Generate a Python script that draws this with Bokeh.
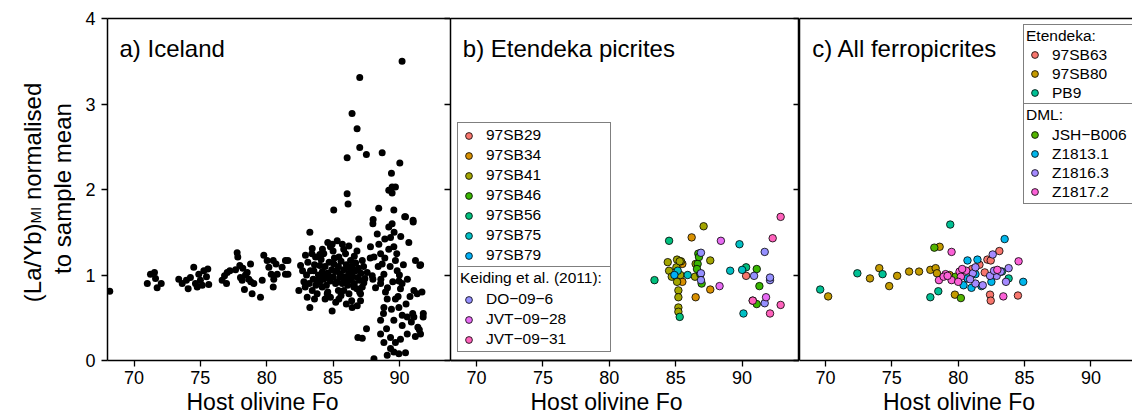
import math
from bokeh.plotting import figure
from bokeh.models import (Range1d, FixedTicker, LinearAxis, Label, Legend,
                          LegendItem, ColumnDataSource, Title)
from bokeh.layouts import row
from bokeh.embed import file_html
from bokeh.resources import INLINE

FONT = "Liberation Sans"
MINUS = "\u2212"

x_ticks = [70, 75, 80, 85, 90]
y_ticks = [0, 1, 2, 3, 4]
x_title = "Host olivine Fo"
panel_titles = ["a) Iceland", "b) Etendeka picrites", "c) All ferropicrites"]

# ---------------- panel a: Iceland ----------------
iceland_fo = [
    68.17, 71.0, 71.24, 71.54, 71.62, 71.74, 72.05,
    73.37, 73.63, 73.95, 74.08, 74.25, 74.5, 74.63, 74.88, 75.0,
    75.26, 75.46, 75.56, 75.63, 75.14, 74.76,
    76.64, 76.82, 77.02, 77.22, 76.97,
    77.77, 77.82, 77.65, 77.97, 78.02, 78.15, 78.32, 78.53, 78.65, 78.78, 78.9, 79.03,
    79.53, 79.66, 79.78, 80.03, 80.16, 80.34, 80.49, 80.53, 80.49, 80.79, 81.41, 81.41, 81.16,
    78.4, 78.8, 80.7, 81.6, 81.6, 78.2,
    83.25, 83.25, 82.55, 82.42, 82.92, 83.0, 82.8, 83.05, 83.43, 83.43,
    83.55, 83.68, 83.8, 84.0, 84.18, 84.3, 84.43, 84.56, 84.8, 84.93,
    84.93, 85.06, 85.19, 85.31, 85.44, 85.44, 85.56, 85.81, 85.94, 86.07,
    86.19, 86.19, 86.32, 86.44, 86.57, 86.69, 86.87, 86.94, 87.07, 87.2,
    87.32, 87.07, 86.82, 87.57, 87.82, 87.95, 88.08, 88.0, 88.33, 88.45,
    88.58, 88.7, 88.83, 88.58, 88.95, 89.08, 88.83, 89.2, 89.45, 89.33,
    89.58, 89.7, 89.83, 89.96, 90.08, 89.7, 89.96, 90.21, 89.58, 90.71,
    90.46, 91.04, 91.21, 91.54, 91.09, 91.34, 90.59, 91.09, 91.79, 91.39,
    91.59, 86.87, 87.2, 87.52, 88.58, 88.58, 89.03, 89.33, 89.7, 90.08,
    90.59, 90.21, 88.08, 89.08, 89.58, 89.96, 90.46, 89.33, 88.83,
    83.3, 83.5, 83.6, 83.7, 83.9, 84.0, 84.1, 84.2, 84.3, 84.4,
    84.5, 84.6, 84.7, 84.8, 84.9, 85.0, 85.1, 85.2, 85.3, 85.4,
    85.5, 85.6, 85.7, 85.8, 85.9, 86.0, 86.1, 86.2, 86.3, 86.4,
    86.5, 86.6, 86.7, 86.8, 86.9, 87.0, 87.1, 87.2, 87.3, 87.4,
    83.4, 83.8, 84.2, 84.6, 85.0, 85.4, 85.8, 86.2, 86.6, 87.0,
    83.2, 84.0, 84.8, 85.6, 86.4, 85.2, 84.4, 86.0, 85.7, 84.6,
    86.8, 83.6, 82.7, 82.9, 83.1, 85.3, 84.75, 85.85, 86.35, 84.15,
    88.6, 88.9, 89.1, 89.3, 89.5, 89.2, 89.8, 90.0, 90.2, 89.9,
    90.3, 90.5, 88.8, 89.4, 90.6, 88.4, 88.2, 87.8, 88.0, 90.1,
    89.6, 88.9, 91.0, 90.8, 91.6, 91.7, 91.5, 91.8, 91.2, 90.9,
    90.2, 87.01, 86.43, 86.81, 87.01, 87.51, 88.7, 86.06, 90.03, 89.4,
    86.06, 86.13, 85.05, 89.2, 89.45, 89.7, 89.45, 88.44, 89.58, 88.02,
    90.4, 91.03,
]
iceland_ratio = [
    0.81, 0.90, 1.01, 1.03, 0.96, 0.85, 0.90,
    0.95, 0.90, 0.94, 0.84, 0.97, 1.09, 0.90, 1.01, 0.94,
    1.05, 0.98, 1.07, 0.89, 0.88, 0.86,
    0.94, 0.99, 1.03, 1.05, 0.90,
    1.26, 1.21, 1.06, 1.11, 0.97, 0.94, 0.83, 1.03, 0.95, 1.13, 0.78, 0.90,
    0.74, 0.94, 1.23, 1.17, 1.09, 1.01, 1.17, 0.95, 0.86, 1.01, 1.17, 1.01, 1.09,
    1.00, 0.92, 1.13, 1.17, 1.01, 1.08,
    1.50, 0.62, 1.11, 0.82, 1.23, 1.00, 0.92, 0.74, 1.31, 0.82,
    1.05, 1.21, 0.94, 1.11, 0.86, 1.25, 0.99, 0.78, 1.33, 1.36,
    0.58, 1.13, 0.90, 1.40, 1.21, 0.72, 1.01, 0.82, 1.25, 1.09,
    1.34, 0.95, 1.17, 0.62, 0.86, 1.05, 0.97, 1.42, 0.78, 1.17,
    0.91, 0.70, 0.64, 1.03, 1.33, 0.99, 1.21, 1.60, 1.48, 1.36,
    1.25, 1.13, 1.01, 0.90, 0.80, 0.72, 0.62, 1.56, 1.60, 1.44,
    1.33, 1.17, 1.05, 0.93, 0.84, 0.72, 0.62, 0.53, 0.47, 1.38,
    1.68, 1.62, 1.17, 1.11, 0.82, 0.78, 0.51, 0.51, 0.51, 0.39,
    0.31, 0.27, 0.26, 0.37, 0.47, 0.31, 0.37, 0.27, 0.21, 0.25,
    0.31, 0.41, 0.02, 0.06, 0.10, 0.08, 0.09, 0.14, 0.21,
    1.05, 0.95, 1.12, 0.88, 1.00, 0.92, 1.18, 1.04, 0.95, 1.10,
    0.88, 1.02, 1.15, 0.93, 1.06, 0.98, 1.20, 1.04, 0.92, 1.10,
    0.97, 1.16, 0.90, 1.06, 0.98, 1.12, 0.88, 1.02, 0.94, 1.10,
    0.98, 0.90, 1.14, 0.84, 1.08, 0.94, 1.02, 0.86, 1.10, 0.96,
    1.25, 0.78, 1.30, 0.80, 1.28, 0.82, 1.30, 0.78, 1.22, 0.80,
    0.90, 1.24, 0.74, 0.76, 0.70, 0.68, 0.72, 0.66, 1.36, 1.38,
    1.28, 0.72, 1.05, 0.86, 1.15, 1.05, 0.97, 0.92, 1.04, 0.99,
    0.95, 1.20, 0.85, 1.10, 0.92, 1.30, 1.25, 1.00, 0.90, 0.75,
    1.12, 0.66, 0.55, 0.60, 0.95, 1.10, 0.85, 1.20, 0.95, 1.45,
    1.50, 1.42, 0.55, 0.75, 1.12, 0.80, 0.36, 0.55, 0.28, 0.45,
    3.50, 3.31, 2.89, 2.71, 2.49, 2.41, 2.43, 2.37, 2.31, 2.19,
    1.95, 1.83, 1.76, 1.99, 1.96, 2.03, 2.03, 1.78, 1.76, 1.65,
    1.68, 1.64,
]

# ---------------- panel b: Etendeka picrites ----------------
b_names = ["97SB29", "97SB34", "97SB41", "97SB46", "97SB56", "97SB75", "97SB79",
           "DO" + MINUS + "09" + MINUS + "6", "JVT" + MINUS + "09" + MINUS + "28",
           "JVT" + MINUS + "09" + MINUS + "31"]
b_colors = ["#F8766D", "#D89000", "#A3A500", "#39B600", "#00BF7D", "#00BFC4",
            "#00B0F6", "#9590FF", "#E76BF3", "#FF62BC"]
sb29_fo = [90.3, 90.8]
sb29_ratio = [0.99, 0.70]
sb34_fo = [86.2, 86.5, 87.6, 85.5, 85.5]
sb34_ratio = [1.44, 0.74, 0.83, 1.13, 0.92]
sb41_fo = [87.1, 84.4, 85.1, 85.4, 84.5, 84.7, 85.1, 85.2, 85.2, 85.2, 85.2, 85.35, 85.05, 87.6, 86.5, 86.45, 85.3]
sb41_ratio = [1.57, 1.15, 1.18, 1.16, 1.05, 0.98, 0.92, 0.82, 0.74, 0.62, 0.57, 1.00, 1.09, 1.17, 1.13, 0.98, 1.16]
sb46_fo = [86.7, 86.65, 86.6, 86.85, 86.95, 91.1, 91.3, 91.1, 86.75]
sb46_ratio = [1.25, 1.13, 1.07, 1.01, 0.90, 1.07, 0.87, 0.66, 1.21]
sb56_fo = [83.4, 84.5, 85.3, 90.3]
sb56_ratio = [0.94, 1.40, 0.51, 1.09]
sb75_fo = [85.15, 85.9, 89.1, 89.8, 90.0, 90.1]
sb75_ratio = [1.05, 1.00, 1.05, 1.36, 1.06, 0.55]
sb79_fo = [84.9]
sb79_ratio = [1.00]
do096_fo = [86.9, 86.9, 86.9, 90.9, 91.7, 92.1, 92.1, 91.7]
do096_ratio = [1.26, 1.02, 0.94, 0.99, 1.27, 0.94, 0.97, 0.67]
jvt0928_fo = [88.4, 88.3, 91.8]
jvt0928_ratio = [1.40, 0.87, 0.74]
jvt0931_fo = [92.9, 92.3, 90.8, 92.1, 92.9]
jvt0931_ratio = [1.68, 1.43, 0.70, 0.55, 0.65]
b_fo = [sb29_fo, sb34_fo, sb41_fo, sb46_fo, sb56_fo, sb75_fo, sb79_fo, do096_fo, jvt0928_fo, jvt0931_fo]
b_ratio = [sb29_ratio, sb34_ratio, sb41_ratio, sb46_ratio, sb56_ratio, sb75_ratio, sb79_ratio,
           do096_ratio, jvt0928_ratio, jvt0931_ratio]

# ---------------- panel c: all ferropicrites ----------------
c_names = ["97SB63", "97SB80", "PB9", "JSH" + MINUS + "B006", "Z1813.1", "Z1816.3", "Z1817.2"]
c_colors = ["#F8766D", "#C49A00", "#00C094", "#53B400", "#00B6EB", "#A58AFF", "#FB61D7"]
sb63_fo = [81.6, 82.0, 82.2, 82.45, 83.1, 82.4, 82.45, 84.5, 81.05]
sb63_ratio = [1.12, 1.03, 1.18, 1.17, 1.28, 0.77, 0.70, 0.76, 1.07]
sb80_fo = [70.2, 73.35, 74.05, 74.8, 75.4, 76.3, 77.05, 77.9, 78.3, 78.4, 78.6, 79.35, 79.75]
sb80_ratio = [0.75, 0.96, 1.08, 0.87, 0.99, 1.04, 1.04, 1.06, 1.08, 1.02, 1.33, 1.00, 0.77]
pb9_fo = [69.6, 72.4, 74.3, 77.9, 78.5, 79.4, 83.3, 83.8]
pb9_ratio = [0.83, 1.02, 1.01, 0.74, 0.81, 1.59, 1.04, 0.96]
jsh_fo = [78.2, 80.2, 79.8]
jsh_ratio = [1.32, 0.73, 0.98]
z18131_fo = [80.7, 81.45, 83.5, 84.9, 80.4, 81.0, 81.75, 82.5, 80.7, 81.3]
z18131_ratio = [1.17, 1.18, 1.42, 0.92, 0.88, 0.85, 0.87, 0.92, 0.96, 1.01]
z18163_fo = [82.6, 83.8, 83.6, 82.9, 82.4, 81.3, 81.85, 81.1, 81.3, 82.7, 80.9, 83.2]
z18163_ratio = [1.24, 1.08, 0.92, 0.99, 0.99, 0.90, 0.88, 1.02, 1.09, 1.05, 0.95, 1.04]
z18172_fo = [79.5, 84.55, 83.4, 80.1, 80.2, 80.6, 79.05, 78.55, 78.9, 79.5, 80.0, 82.95, 80.3, 79.2]
z18172_ratio = [1.27, 1.16, 0.75, 1.04, 0.98, 1.05, 1.01, 0.94, 0.98, 0.94, 0.92, 1.06, 1.07, 0.99]
c_fo = [sb63_fo, sb80_fo, pb9_fo, jsh_fo, z18131_fo, z18163_fo, z18172_fo]
c_ratio = [sb63_ratio, sb80_ratio, pb9_ratio, jsh_ratio, z18131_ratio, z18163_ratio, z18172_ratio]

ROW_H = 418


def style_xaxis(ax):
    ax.ticker = FixedTicker(ticks=x_ticks)
    ax.major_tick_out = 6
    ax.major_tick_in = 0
    ax.minor_tick_line_color = None
    ax.major_tick_line_color = "black"
    ax.major_tick_line_width = 1.3
    ax.axis_line_color = "black"
    ax.axis_line_width = 1.5
    ax.major_label_text_font = FONT
    ax.major_label_text_font_size = "18px"
    ax.major_label_text_color = "black"
    ax.major_label_standoff = 4


def inward_right_axis(p, line=False):
    ax = LinearAxis(ticker=FixedTicker(ticks=y_ticks))
    ax.major_tick_in = 6
    ax.major_tick_out = 0
    ax.minor_tick_line_color = None
    ax.major_tick_line_color = "black"
    ax.major_tick_line_width = 1.3
    ax.axis_line_color = "black" if line else None
    ax.axis_line_width = 1.5
    ax.major_label_overrides = {t: "" for t in y_ticks}
    ax.major_label_text_font_size = "0px"
    ax.major_label_standoff = 0
    p.add_layout(ax, "right")


def bare_axis(p, side, line=True):
    ax = LinearAxis(ticker=FixedTicker(ticks=[]))
    ax.major_tick_out = 0
    ax.major_tick_in = 0
    ax.minor_tick_line_color = None
    ax.axis_line_color = "black" if line else None
    ax.axis_line_width = 1.5
    ax.major_label_text_font_size = "0px"
    ax.major_label_standoff = 0
    p.add_layout(ax, side)


def make_fig(width, x_start, x_end, border_left, title_offset, outline=True):
    p = figure(width=width, height=ROW_H, x_range=Range1d(x_start, x_end), y_range=Range1d(0, 4),
               output_backend="svg", toolbar_location=None,
               min_border_left=border_left, min_border_right=0, min_border_top=18,
               min_border_bottom=ROW_H - 360, y_axis_location=None)
    p.grid.visible = False
    p.background_fill_color = "white"
    p.border_fill_color = "white"
    p.outline_line_color = "black" if outline else None
    p.outline_line_width = 1.5
    style_xaxis(p.xaxis[0])
    p.add_layout(Title(text=x_title, align="left", offset=title_offset, standoff=0,
                       text_font=FONT, text_font_size="23px", text_font_style="normal",
                       text_color="black"), "below")
    return p


def text_fig(width, height):
    p = figure(width=width, height=height, x_range=Range1d(0, width), y_range=Range1d(0, height),
               output_backend="svg", toolbar_location=None, x_axis_location=None,
               y_axis_location=None, min_border_left=0, min_border_right=0,
               min_border_top=0, min_border_bottom=0)
    p.frame_align = False
    p.grid.visible = False
    p.outline_line_color = None
    p.background_fill_color = "white"
    p.border_fill_color = "white"
    return p


def add_text(p, text, x, y, size, align="left", angle=0.0):
    p.add_layout(Label(x=x, y=y, x_units="screen", y_units="screen", text=text,
                       text_font=FONT, text_font_size=size, text_color="black",
                       text_align=align, text_baseline="alphabetic", angle=angle))


def make_legend(items, loc, title=None, label_h=20, standoff=2):
    kw = {}
    if title is not None:
        kw = dict(title=title, title_text_font=FONT, title_text_font_size="15.5px",
                  title_text_font_style="normal", title_text_color="black",
                  title_standoff=standoff)
    return Legend(items=items, location=loc, orientation="vertical",
                  padding=2, spacing=0, margin=0, label_height=label_h,
                  glyph_height=17, glyph_width=17, label_standoff=9, label_width=122,
                  label_text_font=FONT, label_text_font_size="15.5px", label_text_color="black",
                  border_line_color="black", border_line_width=1.5,
                  background_fill_color="white", background_fill_alpha=1.0, **kw)


# ---------------- y-axis title column ----------------
YW = 75
py = text_fig(YW, ROW_H)
add_text(py, "(La/Yb)", 31.5, ROW_H - 301.7, "24px", angle=math.pi / 2)
add_text(py, "MI", 34.5, ROW_H - 223.0, "15px", angle=math.pi / 2)
add_text(py, "normalised", 31.5, ROW_H - 199.6, "24px", angle=math.pi / 2)
add_text(py, "to sample mean", 62.0, ROW_H - 188.0, "24px", align="center", angle=math.pi / 2)

# ---------------- panel a ----------------
pa = make_fig(107 - YW + 343, 68.0, 93.85, 107 - YW, 79, outline=False)
ya = LinearAxis(ticker=FixedTicker(ticks=y_ticks))
ya.major_tick_out = 6
ya.major_tick_in = 0
ya.minor_tick_line_color = None
ya.major_tick_line_color = "black"
ya.major_tick_line_width = 1.3
ya.axis_line_color = "black"
ya.axis_line_width = 1.5
ya.major_label_text_font = FONT
ya.major_label_text_font_size = "18px"
ya.major_label_text_color = "black"
ya.major_label_standoff = 6
pa.add_layout(ya, "left")
bare_axis(pa, "above")
inward_right_axis(pa, line=True)
pa.scatter(x=iceland_fo, y=iceland_ratio, size=7, marker="circle",
           fill_color="black", line_color=None)
add_text(pa, panel_titles[0], 12, 312, "24px")

# ---------------- panel b ----------------
pb = make_fig(349, 68.04, 94.32, 0, 80)
inward_right_axis(pb)
b_items = []
for name, col, xs, ys in zip(b_names, b_colors, b_fo, b_ratio):
    src = ColumnDataSource(dict(x=xs, y=ys))
    r = pb.scatter(x="x", y="y", source=src, size=7.5, marker="circle",
                   fill_color=col, line_color="black", line_width=0.8)
    b_items.append(LegendItem(label=name, renderers=[r]))
pb.add_layout(make_legend(b_items[:7], (7, 92)), "center")
pb.add_layout(make_legend(b_items[7:], (7, 8), title="Keiding et al. (2011):", standoff=2), "center")
add_text(pb, panel_titles[1], 12.3, 312, "24px")

# ---------------- panel c ----------------
PC_W = 1132 - YW - (107 - YW + 343) - 349
pc = make_fig(PC_W, 68.04, 68.04 + PC_W / 13.27, 0, 83.5, outline=False)
bare_axis(pc, "left", line=True)
bare_axis(pc, "above")
c_items = []
for name, col, xs, ys in zip(c_names, c_colors, c_fo, c_ratio):
    src = ColumnDataSource(dict(x=xs, y=ys))
    r = pc.scatter(x="x", y="y", source=src, size=7.5, marker="circle",
                   fill_color=col, line_color="black", line_width=0.8)
    c_items.append(LegendItem(label=name, renderers=[r]))
pc.add_layout(make_legend(c_items[:3], (224, 255), title="Etendeka:", label_h=19, standoff=0), "center")
pc.add_layout(make_legend(c_items[3:], (224, 156), title="DML:", label_h=19, standoff=1), "center")
add_text(pc, panel_titles[2], 12.7, 312, "24px")

layout = row(py, pa, pb, pc, spacing=0)
open("out.html", "w").write(file_html(layout, INLINE))
